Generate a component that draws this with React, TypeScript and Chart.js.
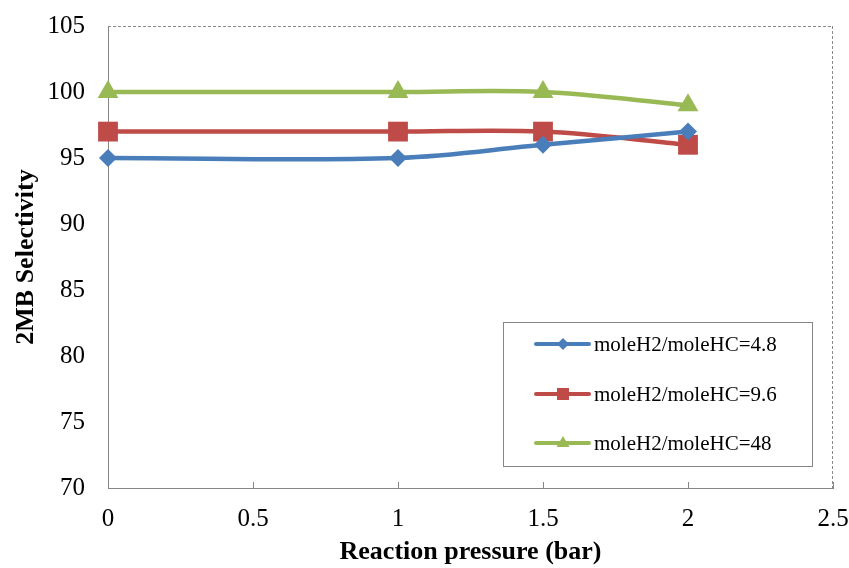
import React, { useEffect, useRef } from 'react';
import { Chart, registerables } from 'chart.js';

Chart.register(...registerables);

const pressures = [0, 1, 1.5, 2];
const seriesLabels = ['moleH2/moleHC=4.8', 'moleH2/moleHC=9.6', 'moleH2/moleHC=48'];
const selectivity48 = [95, 95, 96, 97];
const selectivity96 = [97, 97, 97, 96];
const selectivity480 = [100, 100, 100, 99];
const xTickValues = [0, 0.5, 1, 1.5, 2, 2.5];
const seriesColors = ['#4A7EBB', '#BE4B48', '#98B954'];
const seriesShapes = ['rectRot', 'rect', 'triangle'];
const xTitle = 'Reaction pressure (bar)';
const yTitle = '2MB Selectivity';

const FONT = "'Liberation Serif', 'Times New Roman', serif";

const framePlugin = {
  id: 'frame',
  afterDraw(chart: any) {
    const { ctx, chartArea, scales } = chart;
    const { left, right, top, bottom } = chartArea;
    ctx.save();
    ctx.strokeStyle = '#8a8a8a';
    ctx.lineWidth = 1;
    ctx.setLineDash([3, 2]);
    ctx.beginPath();
    ctx.moveTo(left, top + 0.5);
    ctx.lineTo(right, top + 0.5);
    ctx.moveTo(right - 0.5, top);
    ctx.lineTo(right - 0.5, bottom);
    ctx.stroke();
    ctx.setLineDash([]);
    ctx.strokeStyle = '#868686';
    ctx.beginPath();
    scales.x.ticks.forEach((t: any) => {
      const px = Math.round(scales.x.getPixelForValue(t.value)) + 0.5;
      ctx.moveTo(px, bottom);
      ctx.lineTo(px, bottom - 6);
    });
    ctx.stroke();

    const bx = 503, by = 322, bw = 309, bh = 144;
    ctx.fillStyle = '#ffffff';
    ctx.fillRect(bx, by, bw, bh);
    ctx.strokeStyle = '#868686';
    ctx.lineWidth = 1;
    ctx.strokeRect(bx + 0.5, by + 0.5, bw, bh);
    const rows = [344, 394, 443];
    chart.data.datasets.forEach((ds: any, i: number) => {
      const y = rows[i];
      ctx.strokeStyle = ds.borderColor;
      ctx.lineWidth = 4;
      ctx.lineCap = 'round';
      ctx.beginPath();
      ctx.moveTo(536, y);
      ctx.lineTo(589, y);
      ctx.stroke();
      ctx.fillStyle = ds.borderColor;
      const cx = 563;
      ctx.beginPath();
      if (ds.pointStyle === 'rectRot') {
        ctx.moveTo(cx, y - 6);
        ctx.lineTo(cx + 6, y);
        ctx.lineTo(cx, y + 6);
        ctx.lineTo(cx - 6, y);
      } else if (ds.pointStyle === 'rect') {
        ctx.rect(cx - 6, y - 6, 12, 12);
      } else {
        ctx.moveTo(cx, y - 7);
        ctx.lineTo(cx + 6.5, y + 4);
        ctx.lineTo(cx - 6.5, y + 4);
      }
      ctx.closePath();
      ctx.fill();
      ctx.fillStyle = '#000000';
      ctx.font = `21px ${FONT}`;
      ctx.textBaseline = 'middle';
      ctx.textAlign = 'left';
      ctx.fillText(ds.label, 594, y + 1);
    });
    ctx.restore();
  },
};

export default function App() {
  const ref = useRef<HTMLCanvasElement>(null);
  useEffect(() => {
    if (!ref.current) return;
    const dataSets = [selectivity48, selectivity96, selectivity480];
    const chart = new Chart(ref.current, {
      type: 'line',
      data: {
        datasets: dataSets.map((vals, i) => ({
          label: seriesLabels[i],
          data: pressures.map((p, j) => ({ x: p, y: vals[j] })),
          borderColor: seriesColors[i],
          backgroundColor: seriesColors[i],
          pointBackgroundColor: seriesColors[i],
          pointBorderColor: seriesColors[i],
          pointBorderWidth: 0,
          pointStyle: seriesShapes[i] as any,
          pointRadius: [9, 14, 12][i],
          borderWidth: 4.5,
          tension: 0.35,
          clip: false as any,
        })),
      },
      options: {
        animation: false,
        responsive: false,
        maintainAspectRatio: false,
        layout: { padding: { left: 0, top: 26, right: 16, bottom: 0 } },
        plugins: { legend: { display: false }, tooltip: { enabled: false } },
        scales: {
          x: {
            type: 'linear',
            min: 0,
            max: 2.5,
            afterFit: (s: any) => {
              s.height = 80;
              s.paddingLeft = 0;
              s.paddingRight = 0;
            },
            afterBuildTicks: (s: any) => {
              s.ticks = xTickValues.map((v) => ({ value: v }));
            },
            ticks: {
              color: '#000',
              font: { family: FONT, size: 25 },
              padding: 16,
              maxRotation: 0,
              autoSkip: false,
              callback: (v: any) => String(v),
            },
            grid: { display: false, drawTicks: false },
            border: { display: true, color: '#868686', width: 1 },
            title: {
              display: true,
              text: xTitle,
              color: '#000',
              font: { family: FONT, size: 26, weight: 'bold' },
              padding: { top: 0, bottom: 0 },
            },
          },
          y: {
            type: 'linear',
            min: 70,
            max: 105,
            afterFit: (s: any) => {
              s.width = 108;
              s.paddingTop = 0;
              s.paddingBottom = 0;
            },
            ticks: {
              stepSize: 5,
              color: '#000',
              font: { family: FONT, size: 25 },
              padding: 23,
            },
            grid: { display: false, drawTicks: false },
            border: { display: true, color: '#868686', width: 1 },
            title: {
              display: true,
              text: yTitle,
              color: '#000',
              font: { family: FONT, size: 26, weight: 'bold' },
              padding: { top: 11, bottom: 0 },
            },
          },
        },
      },
      plugins: [framePlugin],
    });
    return () => chart.destroy();
  }, []);
  return (
    <div style={{ position: 'fixed', left: 0, top: 0, width: 849, height: 568, background: '#fff' }}>
      <canvas ref={ref} width={849} height={568} style={{ width: 849, height: 568 }} />
    </div>
  );
}
